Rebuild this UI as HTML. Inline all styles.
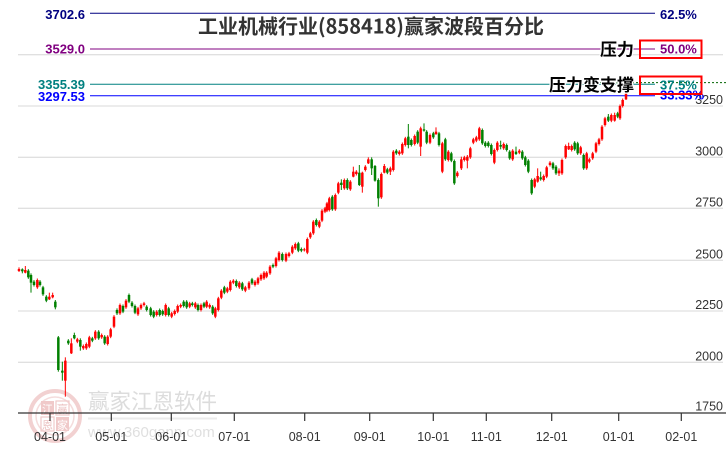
<!DOCTYPE html>
<html><head><meta charset="utf-8"><style>
html,body{margin:0;padding:0;background:#fff;}
#wrap{position:relative;width:726px;height:450px;overflow:hidden;background:#fff;}
svg{position:absolute;left:0;top:0;}
text{font-family:"Liberation Sans","Noto Sans CJK SC",sans-serif;}
</style></head><body>
<div id="wrap">
<svg id="base" width="726" height="450" viewBox="0 0 726 450" xmlns="http://www.w3.org/2000/svg">
<g stroke="#e0e0e0" stroke-width="1.3">
<line x1="18" x2="723" y1="54.7" y2="54.7"/>
<line x1="18" x2="723" y1="106" y2="106"/>
<line x1="18" x2="723" y1="157.3" y2="157.3"/>
<line x1="18" x2="723" y1="208.3" y2="208.3"/>
<line x1="18" x2="723" y1="260.3" y2="260.3"/>
<line x1="18" x2="723" y1="311" y2="311"/>
<line x1="18" x2="723" y1="362.3" y2="362.3"/>
</g>
<g opacity="0.85">
<circle cx="55" cy="416" r="25" fill="none" stroke="#f0c9c9" stroke-width="4"/>
<circle cx="55" cy="416" r="19" fill="none" stroke="#f3d6d6" stroke-width="1.5"/>
<rect x="41" y="401" width="13" height="14" fill="#eec0c0"/>
<rect x="56" y="401" width="13" height="14" fill="none" stroke="#eec0c0" stroke-width="1.2"/>
<rect x="41" y="417" width="13" height="14" fill="none" stroke="#eec0c0" stroke-width="1.2"/>
<rect x="56" y="417" width="13" height="14" fill="#eec0c0"/>
<text x="47.5" y="413" font-size="11" text-anchor="middle" fill="#fff">江</text>
<text x="62.5" y="413" font-size="11" text-anchor="middle" fill="#e8b8b8">赢</text>
<text x="47.5" y="429" font-size="11" text-anchor="middle" fill="#e8b8b8">恩</text>
<text x="62.5" y="429" font-size="11" text-anchor="middle" fill="#fff">家</text>
<text x="88" y="409" font-size="21.5" fill="#d6d6d6">赢家江恩软件</text>
<line x1="88" x2="217" y1="418.5" y2="418.5" stroke="#e8e8e8" stroke-width="2"/>
<text x="88" y="437" font-size="15" fill="#dadada">www.360gann.com</text>
</g>
<line x1="18" x2="726" y1="413" y2="413" stroke="#333" stroke-width="1.3"/>
<g stroke="#333" stroke-width="1.2">
<line x1="50" x2="50" y1="413" y2="421"/>
<line x1="111.3" x2="111.3" y1="413" y2="421"/>
<line x1="171.3" x2="171.3" y1="413" y2="421"/>
<line x1="234.3" x2="234.3" y1="413" y2="421"/>
<line x1="304.7" x2="304.7" y1="413" y2="421"/>
<line x1="369.7" x2="369.7" y1="413" y2="421"/>
<line x1="433.3" x2="433.3" y1="413" y2="421"/>
<line x1="486.3" x2="486.3" y1="413" y2="421"/>
<line x1="551.7" x2="551.7" y1="413" y2="421"/>
<line x1="618.7" x2="618.7" y1="413" y2="421"/>
<line x1="681.3" x2="681.3" y1="413" y2="421"/>
</g>
<g font-size="12.5" fill="#333" text-anchor="middle">
<text x="50" y="441">04-01</text>
<text x="111.3" y="441">05-01</text>
<text x="171.3" y="441">06-01</text>
<text x="234.3" y="441">07-01</text>
<text x="304.7" y="441">08-01</text>
<text x="369.7" y="441">09-01</text>
<text x="433.3" y="441">10-01</text>
<text x="486.3" y="441">11-01</text>
<text x="551.7" y="441">12-01</text>
<text x="618.7" y="441">01-01</text>
<text x="681.3" y="441">02-01</text>
</g>
<g font-size="12.5" fill="#333" text-anchor="end">
<text x="723" y="104">3250</text>
<text x="723" y="155.3">3000</text>
<text x="723" y="206.3">2750</text>
<text x="723" y="258.3">2500</text>
<text x="723" y="309">2250</text>
<text x="723" y="360.3">2000</text>
<text x="723" y="410.7">1750</text>
</g>
<line x1="90" x2="655" y1="13.3" y2="13.3" stroke="#000080" stroke-width="1"/>
<line x1="90" x2="655" y1="49" y2="49" stroke="#c080c0" stroke-width="2"/>
<line x1="90" x2="655" y1="84.3" y2="84.3" stroke="#008080" stroke-width="1"/>
<line x1="90" x2="655" y1="95.8" y2="95.8" stroke="#0000ff" stroke-width="1"/>
<line x1="580" x2="726" y1="82.6" y2="82.6" stroke="#006400" stroke-width="1" stroke-dasharray="2,2"/>
</svg>
<svg id="candles" width="726" height="450" viewBox="0 0 726 450" xmlns="http://www.w3.org/2000/svg"></svg>
<svg id="top" width="726" height="450" viewBox="0 0 726 450" xmlns="http://www.w3.org/2000/svg">
<g font-size="13" font-weight="bold" text-anchor="end">
<text x="85" y="19" fill="#000080">3702.6</text>
<text x="85" y="53.5" fill="#800080">3529.0</text>
<text x="85" y="89" fill="#008080">3355.39</text>
<text x="85" y="101" fill="#0000ff">3297.53</text>
</g>
<g font-size="13" font-weight="bold">
<text x="660" y="19" fill="#000080">62.5%</text>
<text x="660" y="53.5" fill="#800080">50.0%</text>
<text x="660" y="89.3" fill="#008080">37.5%</text>
<text x="660" y="99.5" fill="#0000ff">33.33%</text>
</g>
<rect x="640" y="40.5" width="61.5" height="17.5" fill="none" stroke="#ff0000" stroke-width="2"/>
<rect x="640" y="76.5" width="61.5" height="17.5" fill="none" stroke="#ff0000" stroke-width="2"/>
<g font-size="17" font-weight="bold" fill="#000" text-anchor="end" stroke="#fff" stroke-width="2.5" paint-order="stroke" style="font-family:'Noto Sans CJK SC',sans-serif">
<text x="634" y="55.5">压力</text>
<text x="634" y="91">压力变支撑</text>
</g>
<text x="371" y="33.5" font-size="20" font-weight="bold" fill="#333" text-anchor="middle" style="font-family:'Noto Sans CJK SC',sans-serif">工业机械行业(858418)赢家波段百分比</text>
</svg>
</div>
<script>
var groups=[
{ox:0,oy:250,d:[[57,57,63,'r',52,66],[67,58,64,'g',55,70],[76,60,68,'r',48,70],[85,62,82,'g'],[93,75,98,'g',70,128],[102,95,105,'g'],[112,90,112,'r'],[120,95,105,'g'],[129,112,133,'g'],[139,140,152,'g'],[148,140,148,'r',128,150]]},
{ox:50,oy:280,d:[[8,45,52,'r',38,55],[16,65,82,'g',60,88],[25,172,270,'g',168,275],[37,272,278,'g',245,302],[46,242,302,'r',232,350],[55,182,190,'g'],[64,190,220,'r',175,222],[73,165,175,'g',158,178],[82,178,185,'r'],[91,180,200,'g',175,212],[100,198,205,'r'],[109,192,205,'r'],[118,172,200,'r'],[127,175,182,'g'],[136,155,175,'r'],[146,155,175,'g'],[155,165,172,'r'],[164,170,190,'g'],[173,170,192,'r'],[182,148,170,'r'],[192,110,140,'r'],[201,90,100,'g',85,105],[210,75,100,'r'],[219,78,95,'g'],[228,62,82,'r'],[237,45,65,'g'],[246,68,78,'g'],[255,78,98,'g'],[264,85,103,'r']]},
{ox:0,oy:250,d:[[423,165,175,'r'],[432,160,165,'r'],[440,170,180,'g'],[452,175,195,'g'],[461,185,200,'g'],[470,185,195,'r'],[479,180,195,'g'],[488,183,193,'g'],[497,165,195,'r'],[506,175,195,'g'],[515,190,200,'r'],[524,183,192,'r'],[533,168,185,'r'],[542,165,170,'r'],[551,155,168,'g'],[560,155,172,'g'],[569,160,170,'r'],[577,160,165,'g'],[586,160,172,'r'],[594,165,180,'g'],[603,165,180,'r'],[612,160,170,'g'],[620,155,170,'r'],[629,165,172,'r'],[638,170,190,'g']]},
{ox:200,oy:150,d:[[46,475,500,'r'],[55,445,480,'r'],[64,422,443,'r'],[73,412,428,'g'],[82,415,425,'r'],[91,395,420,'r'],[100,392,398,'r'],[109,393,408,'g'],[118,398,412,'r'],[127,400,418,'g'],[136,412,422,'r'],[147,398,415,'r'],[156,388,400,'g'],[165,395,405,'r'],[174,385,400,'r'],[183,375,388,'r'],[192,368,385,'r'],[200,368,380,'r'],[210,350,370,'r'],[219,345,350,'g'],[228,325,348,'r'],[237,308,330,'r'],[247,312,330,'g'],[258,312,332,'r'],[267,310,318,'r'],[277,290,308,'r'],[286,282,295,'r'],[295,280,302,'g'],[304,297,302,'g'],[313,298,300,'r'],[322,267,308,'r'],[331,250,262,'r'],[340,215,250,'r'],[349,210,225,'g'],[358,215,230,'r'],[366,182,212,'r'],[375,175,185,'r'],[381,160,182,'r'],[388,145,180,'r'],[397,140,178,'g'],[406,135,178,'r'],[415,100,128,'r'],[424,98,105,'g',88,120],[433,90,115,'r'],[442,90,115,'g',85,120],[451,95,118,'r'],[460,65,80,'r',50,82],[469,65,72,'r'],[478,68,105,'g',45,108],[487,68,110,'r',65,128],[496,50,60,'r'],[505,28,40,'r',22,42],[515,28,55,'g',22,75],[525,48,92,'g',45,95],[535,90,145,'g',85,170],[544,72,142,'r'],[553,48,68,'r',42,70],[562,58,68,'g'],[571,55,65,'r',50,75],[580,5,60,'r'],[589,2,10,'g'],[598,5,12,'r']]},
{ox:380,oy:100,d:[[67,132,160,'r'],[76,115,135,'r'],[85,110,135,'g',72,145],[94,120,135,'g'],[104,108,132,'r'],[113,95,128,'g'],[122,85,140,'r',80,168],[132,88,92,'g',70,95],[140,95,128,'g'],[150,105,128,'r'],[160,100,112,'g'],[168,95,102,'r',82,105],[177,100,135,'g'],[187,130,215,'r'],[196,118,178,'g'],[205,155,180,'r'],[214,160,182,'g'],[223,183,250,'g'],[232,218,228,'r'],[244,178,205,'r',170,210],[253,172,180,'r'],[262,170,182,'r',165,205],[271,145,172,'r'],[280,118,128,'r'],[289,112,122,'r'],[298,85,118,'r'],[307,90,130,'g'],[316,128,138,'g'],[325,128,138,'g'],[334,135,162,'g'],[343,150,188,'r'],[352,128,150,'r'],[362,135,140,'g',122,148],[371,132,145,'r'],[380,135,150,'g'],[389,155,175,'g'],[398,152,178,'r'],[408,155,162,'g',140,165],[418,152,158,'r'],[427,155,175,'g'],[436,172,195,'g'],[445,182,215,'g'],[455,240,280,'g'],[464,238,260,'r'],[473,228,245,'r',205,248],[482,232,238,'g',215,242],[491,228,240,'r'],[500,202,230,'r'],[510,188,195,'r'],[519,190,205,'g'],[528,200,220,'g'],[537,212,220,'r',205,228],[546,180,220,'r'],[557,138,172,'r'],[566,138,148,'r',128,150],[575,138,150,'r'],[584,128,148,'g'],[593,130,160,'g'],[602,142,160,'r'],[611,165,205,'g'],[620,160,205,'r'],[628,178,185,'r'],[638,160,175,'r'],[648,130,155,'r'],[657,118,132,'r'],[666,80,118,'r'],[675,55,75,'r'],[685,50,62,'g',42,66],[694,45,62,'r'],[704,45,62,'r',38,65],[713,40,50,'g'],[720,18,55,'r'],[728,0,18,'r']]},
{ox:580,oy:60,d:[[138,95,118,'r',85,120]]}
];
var s='';
for(var gi=0;gi<groups.length;gi++){var g=groups[gi];
for(var i=0;i<g.d.length;i++){var c=g.d[i];
var x=g.ox+c[0]/3,t=g.oy+c[1]/3,b=g.oy+c[2]/3;
var st=(c.length>4)?g.oy+c[4]/3:t-1.5;
var sb=(c.length>5)?g.oy+c[5]/3:b+1.5;
var col=c[3]=='r'?'#ff0000':'#008000';
var h=Math.max(b-t,1);
s+='<line x1="'+x.toFixed(2)+'" x2="'+x.toFixed(2)+'" y1="'+st.toFixed(2)+'" y2="'+sb.toFixed(2)+'" stroke="'+col+'" stroke-width="1"/>';
s+='<rect x="'+(x-1.25).toFixed(2)+'" y="'+t.toFixed(2)+'" width="2.5" height="'+h.toFixed(2)+'" fill="'+col+'"/>';
}}
document.getElementById('candles').innerHTML=s;
</script>
</body></html>
